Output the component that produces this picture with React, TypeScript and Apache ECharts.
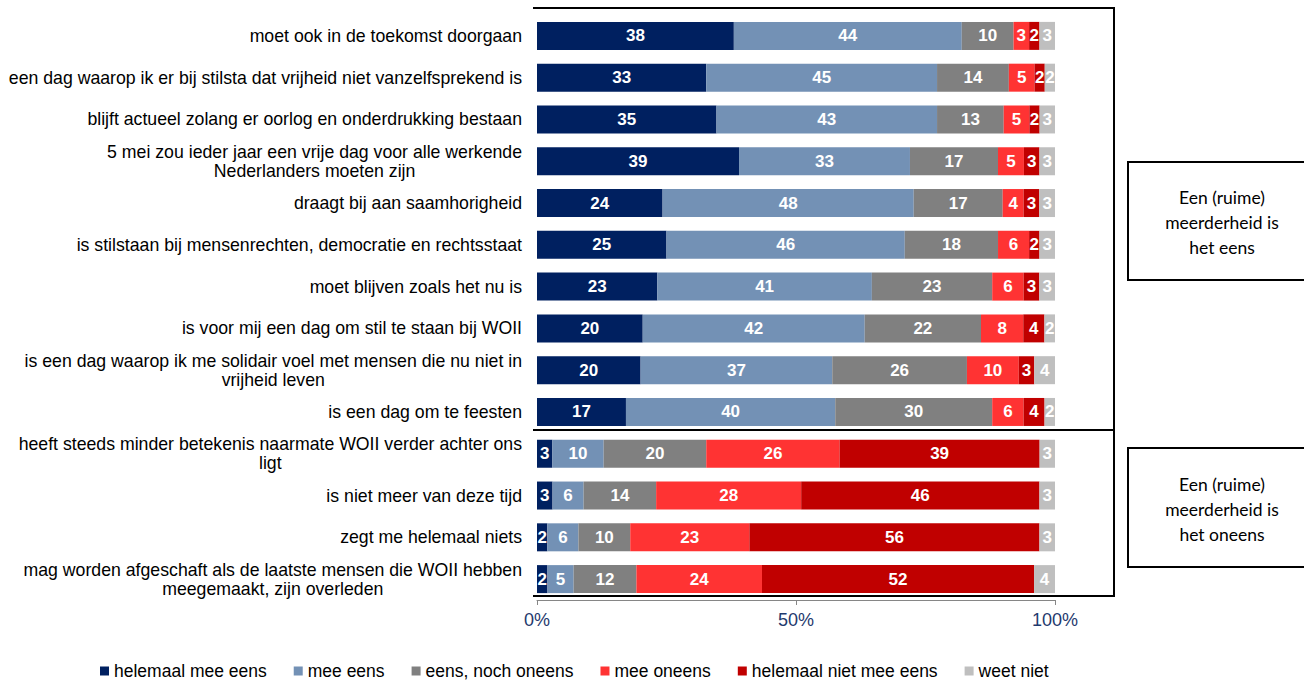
import React, { useEffect, useRef } from "react";
import * as echarts from "echarts";

const categories = [
  "moet ook in de toekomst doorgaan",
  "een dag waarop ik er bij stilsta dat vrijheid niet vanzelfsprekend is",
  "blijft actueel zolang er oorlog en onderdrukking bestaan",
  "5 mei zou ieder jaar een vrije dag voor alle werkende\nNederlanders moeten zijn",
  "draagt bij aan saamhorigheid",
  "is stilstaan bij mensenrechten, democratie en rechtsstaat",
  "moet blijven zoals het nu is",
  "is voor mij een dag om stil te staan bij WOII",
  "is een dag waarop ik me solidair voel met mensen die nu niet in\nvrijheid leven",
  "is een dag om te feesten",
  "heeft steeds minder betekenis naarmate WOII verder achter ons\nligt",
  "is niet meer van deze tijd",
  "zegt me helemaal niets",
  "mag worden afgeschaft als de laatste mensen die WOII hebben\nmeegemaakt, zijn overleden",
];

const seriesNames = [
  "helemaal mee eens",
  "mee eens",
  "eens, noch oneens",
  "mee oneens",
  "helemaal niet mee eens",
  "weet niet",
];
const seriesColors = ["#002060", "#7391B5", "#808080", "#FF3333", "#C00000", "#BFBFBF"];

const helemaalMeeEens = [38, 33, 35, 39, 24, 25, 23, 20, 20, 17, 3, 3, 2, 2];
const meeEens = [44, 45, 43, 33, 48, 46, 41, 42, 37, 40, 10, 6, 6, 5];
const eensNochOneens = [10, 14, 13, 17, 17, 18, 23, 22, 26, 30, 20, 14, 10, 12];
const meeOneens = [3, 5, 5, 5, 4, 6, 6, 8, 10, 6, 26, 28, 23, 24];
const helemaalNietMeeEens = [2, 2, 2, 3, 3, 2, 3, 4, 3, 4, 39, 46, 56, 52];
const weetNiet = [3, 2, 3, 3, 3, 3, 3, 2, 4, 2, 3, 3, 3, 4];

const xTicks = [0, 50, 100];
const boxTexts = ["Een (ruime)\nmeerderheid is\nhet eens", "Een (ruime)\nmeerderheid is\nhet oneens"];

const FONT = 'Arial, "Liberation Sans", sans-serif';

export default function App() {
  const ref = useRef<HTMLDivElement>(null);
  useEffect(() => {
    if (!ref.current) return;
    const chart = echarts.init(ref.current, undefined, { renderer: "svg" });
    const raw = [helemaalMeeEens, meeEens, eensNochOneens, meeOneens, helemaalNietMeeEens, weetNiet];
    const totals = categories.map((_, i) => raw.reduce((s, arr) => s + arr[i], 0));

    const series = raw.map((arr, si) => ({
      name: seriesNames[si],
      type: "bar",
      stack: "total",
      barWidth: "67%",
      itemStyle: { color: seriesColors[si] },
      label: {
        show: true,
        position: "inside",
        color: "#fff",
        fontWeight: "bold",
        fontSize: 17,
        fontFamily: FONT,
        formatter: (p: any) => String(arr[p.dataIndex]),
      },
      data: arr.map((v, i) => (v / totals[i]) * 100),
    }));

    chart.setOption({
      animation: false,
      backgroundColor: "#fff",
      grid: { left: 537, right: 249, top: 15, bottom: 80, containLabel: false },
      legend: {
        data: seriesNames,
        left: 100,
        top: 661,
        icon: "rect",
        itemWidth: 9,
        itemHeight: 9,
        itemGap: 27,
        padding: 0,
        textStyle: { fontSize: 17.5, color: "#000", fontFamily: FONT, lineHeight: 20 },
      },
      xAxis: {
        type: "value",
        min: xTicks[0],
        max: xTicks[xTicks.length - 1],
        interval: xTicks[1] - xTicks[0],
        axisLine: { show: true, lineStyle: { color: "#868686", width: 1 } },
        axisTick: { show: true, length: 5, lineStyle: { color: "#868686" } },
        splitLine: { show: false },
        axisLabel: {
          formatter: "{value}%",
          color: "#1F3A6E",
          fontSize: 18,
          fontFamily: FONT,
          margin: 11,
        },
      },
      yAxis: {
        type: "category",
        inverse: true,
        data: categories,
        axisLine: { show: false },
        axisTick: { show: false },
        axisLabel: {
          margin: 15,
          align: "right",
          formatter: (v: string) =>
            v
              .split("\n")
              .map((l) => `{c|${l}}`)
              .join("\n"),
          rich: {
            c: {
              align: "center",
              fontSize: 17.7,
              lineHeight: 19,
              fontFamily: FONT,
              color: "#000",
            },
          },
        },
      },
      series,
      graphic: [
        {
          type: "polyline",
          shape: { points: [[533, 8], [1114, 8], [1114, 430]] },
          style: { stroke: "#000", lineWidth: 2, fill: null },
          z: 100,
        },
        {
          type: "polyline",
          shape: { points: [[533, 430], [1114, 430], [1114, 596], [533, 596]] },
          style: { stroke: "#000", lineWidth: 2, fill: null },
          z: 100,
        },
        {
          type: "rect",
          shape: { x: 1128, y: 162, width: 200, height: 118 },
          style: { stroke: "#000", lineWidth: 2, fill: "#fff" },
          z: 100,
        },
        {
          type: "text",
          x: 1222,
          y: 222,
          style: {
            text: boxTexts[0],
            align: "center",
            verticalAlign: "middle",
            fontSize: 17.5,
            lineHeight: 25,
            fontFamily: 'Lato, "Open Sans", sans-serif',
            fill: "#000",
          },
          z: 101,
        },
        {
          type: "rect",
          shape: { x: 1128, y: 448, width: 200, height: 119 },
          style: { stroke: "#000", lineWidth: 2, fill: "#fff" },
          z: 100,
        },
        {
          type: "text",
          x: 1222,
          y: 509,
          style: {
            text: boxTexts[1],
            align: "center",
            verticalAlign: "middle",
            fontSize: 17.5,
            lineHeight: 25,
            fontFamily: 'Lato, "Open Sans", sans-serif',
            fill: "#000",
          },
          z: 101,
        },
      ],
    });
    return () => chart.dispose();
  }, []);
  return (
    <div
      ref={ref}
      style={{ position: "fixed", left: 0, top: 0, width: 1304, height: 680, background: "#fff" }}
    />
  );
}
